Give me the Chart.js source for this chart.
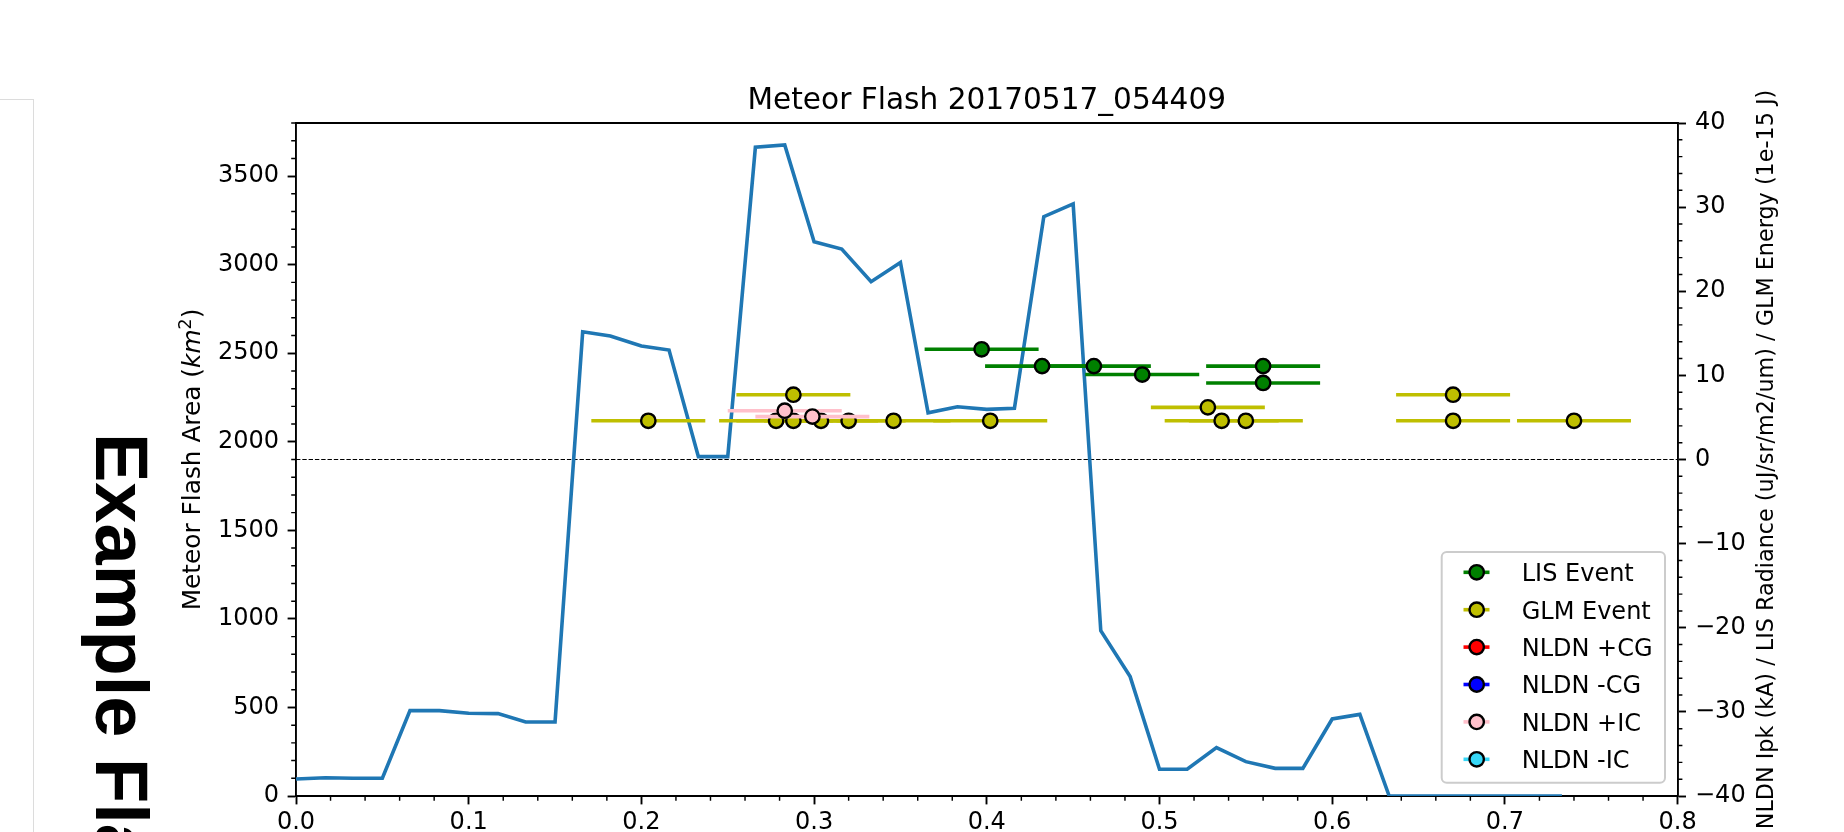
<!DOCTYPE html>
<html>
<head>
<meta charset="utf-8">
<title>Meteor Flash 20170517_054409</title>
<script src="https://cdn.jsdelivr.net/npm/chart.js@4.4.1/dist/chart.umd.min.js"></script>
<style>
    html, body { margin: 0; padding: 0; background: #fff; overflow: hidden; }
    #wrap { position: relative; width: 1844px; height: 832px; overflow: hidden; }
    #side { position: absolute; left: -10px; top: 99px; width: 44px; height: 800px; border: 1.5px solid #dcdcdc; box-sizing: border-box; }
    #sideTitle {
        position: absolute; left: 158px; top: 433px;
        transform-origin: 0 0; transform: rotate(90deg);
        font: bold 74px "Liberation Sans", Arial, sans-serif; line-height: 74px;
        white-space: nowrap; color: #000;
    }
    canvas { position: absolute; left: 0; top: 0; }
</style>
</head>
<body>
<div id="wrap">
    <canvas id="flashChart" width="1844" height="832"></canvas>
    <div id="side"></div>
    <div id="sideTitle">Example Flash</div>
</div>
<script>
// Meteor flash area (left axis), one value per frame
const flashTime = [0.000, 0.017, 0.033, 0.050, 0.066, 0.083, 0.100, 0.117, 0.133, 0.150,
                   0.166, 0.182, 0.200, 0.216, 0.233, 0.250, 0.266, 0.283, 0.300, 0.316,
                   0.333, 0.350, 0.366, 0.383, 0.400, 0.416, 0.433, 0.450, 0.466, 0.483,
                   0.500, 0.516, 0.533, 0.550, 0.567, 0.583, 0.600, 0.616, 0.633, 0.650,
                   0.666, 0.683, 0.700, 0.716, 0.733];
const flashArea = [96, 103, 100, 100, 482, 482, 467, 465, 418, 418,
                   2621, 2597, 2541, 2518, 1916, 1916, 3663, 3676, 3130, 3088,
                   2904, 3013, 2164, 2198, 2183, 2189, 3271, 3343, 933, 674,
                   151, 151, 273, 194, 156, 156, 435, 461, 0, 0,
                   0, 0, 0, 0, 0];

// Events (right axis)
const lisTime = [0.397, 0.432, 0.462, 0.490, 0.560, 0.560];
const lisRadiance = [13.1, 11.1, 11.1, 10.1, 11.1, 9.1];

const glmTime = [0.204, 0.278, 0.288, 0.288, 0.304, 0.320, 0.346, 0.402, 0.528, 0.536, 0.550, 0.670, 0.670, 0.740];
const glmEnergy = [4.6, 4.6, 4.6, 7.7, 4.6, 4.6, 4.6, 4.6, 6.2, 4.6, 4.6, 7.7, 4.6, 4.6];

const posCgTime = [];
const posCgPeak = [];
const negCgTime = [];
const negCgPeak = [];
const posIcTime = [0.283, 0.299];
const posIcPeak = [5.8, 5.1];
const negIcTime = [];
const negIcPeak = [];

const errHalfWidth = 0.033;

// Tick labels
const xTickValues = [0.0, 0.1, 0.2, 0.3, 0.4, 0.5, 0.6, 0.7, 0.8];
const yTickValues = [0, 500, 1000, 1500, 2000, 2500, 3000, 3500];
const y2TickValues = [-40, -30, -20, -10, 0, 10, 20, 30, 40];

const FONT = '"DejaVu Sans", Verdana, sans-serif';

const toPoints = (xs, ys) => xs.map((x, i) => ({ x: x, y: ys[i] }));

const eventSet = (label, xs, ys, color, order) => ({
    label: label,
    data: toPoints(xs, ys),
    yAxisID: 'y2',
    showLine: false,
    pointRadius: 7.2,
    pointHoverRadius: 7.2,
    pointBackgroundColor: color,
    pointBorderColor: '#000',
    pointBorderWidth: 2.4,
    errHalf: errHalfWidth,
    barColor: color,
    inLegend: true,
    order: order
});

// Horizontal error bars, drawn just before each event dataset
const errorBars = {
    id: 'errorBars',
    beforeDatasetDraw(chart, args) {
        const ds = chart.data.datasets[args.index];
        if (!ds.errHalf) return;
        const xs = chart.scales.x, ys = chart.scales.y2, ctx = chart.ctx, a = chart.chartArea;
        ctx.save();
        ctx.beginPath();
        ctx.rect(a.left, a.top, a.right - a.left, a.bottom - a.top);
        ctx.clip();
        ctx.strokeStyle = ds.barColor;
        ctx.lineWidth = 3.6;
        ds.data.forEach(p => {
            const y = ys.getPixelForValue(p.y);
            ctx.beginPath();
            ctx.moveTo(xs.getPixelForValue(p.x - ds.errHalf), y);
            ctx.lineTo(xs.getPixelForValue(p.x + ds.errHalf), y);
            ctx.stroke();
        });
        ctx.restore();
    }
};

// Dashed zero line of the right axis
const zeroLine = {
    id: 'zeroLine',
    beforeDatasetsDraw(chart) {
        const ctx = chart.ctx, a = chart.chartArea;
        const y = chart.scales.y2.getPixelForValue(0);
        ctx.save();
        ctx.strokeStyle = '#000';
        ctx.lineWidth = 1.2;
        ctx.setLineDash([4.4, 1.9]);
        ctx.beginPath();
        ctx.moveTo(a.left, y);
        ctx.lineTo(a.right, y);
        ctx.stroke();
        ctx.restore();
    }
};

// Frame, minor ticks, title, axis titles, legend
const decorations = {
    id: 'decorations',
    afterDraw(chart) {
        const ctx = chart.ctx, a = chart.chartArea;
        const sx = chart.scales.x, sy = chart.scales.y, sy2 = chart.scales.y2;
        ctx.save();

        // top spine
        ctx.strokeStyle = '#000';
        ctx.lineWidth = 1.9;
        ctx.beginPath();
        ctx.moveTo(a.left - 0.95, a.top);
        ctx.lineTo(a.right + 0.95, a.top);
        ctx.stroke();

        // minor ticks
        ctx.lineWidth = 1.44;
        ctx.beginPath();
        for (let k = 0; k <= 40; k++) {
            if (k % 5 === 0) continue;
            const x = sx.getPixelForValue(k * 0.02);
            ctx.moveTo(x, a.bottom);
            ctx.lineTo(x, a.bottom + 4.8);
        }
        for (let k = 0; k <= 38; k++) {
            if (k % 5 === 0) continue;
            const y = sy.getPixelForValue(k * 100);
            ctx.moveTo(a.left, y);
            ctx.lineTo(a.left - 4.8, y);
        }
        for (let k = -20; k <= 20; k++) {
            if (k % 5 === 0) continue;
            const y = sy2.getPixelForValue(k * 2);
            ctx.moveTo(a.right, y);
            ctx.lineTo(a.right + 4.8, y);
        }
        ctx.stroke();

        // title
        ctx.fillStyle = '#000';
        ctx.font = '29.6px ' + FONT;
        ctx.textAlign = 'center';
        ctx.textBaseline = 'alphabetic';
        ctx.fillText('Meteor Flash 20170517_054409', (a.left + a.right) / 2, 108.6);

        // left axis title with italic km and superscript 2
        const parts = [
            { t: 'Meteor Flash Area (', f: '24.8px ' + FONT, dy: 0 },
            { t: 'km', f: 'italic 24.8px ' + FONT, dy: 0 },
            { t: '2', f: '17.5px ' + FONT, dy: -9.5 },
            { t: ')', f: '24.8px ' + FONT, dy: 0 }
        ];
        let total = 0;
        parts.forEach(p => { ctx.font = p.f; p.w = ctx.measureText(p.t).width; total += p.w; });
        ctx.save();
        ctx.translate(200, (a.top + a.bottom) / 2);
        ctx.rotate(-Math.PI / 2);
        ctx.textAlign = 'left';
        let cx = -total / 2;
        parts.forEach(p => { ctx.font = p.f; ctx.fillText(p.t, cx, p.dy); cx += p.w; });
        ctx.restore();

        // right axis title
        ctx.save();
        ctx.translate(1773, (a.top + a.bottom) / 2);
        ctx.rotate(-Math.PI / 2);
        ctx.font = '22.3px ' + FONT;
        ctx.textAlign = 'center';
        ctx.fillText('NLDN Ipk (kA) / LIS Radiance (uJ/sr/m2/um) / GLM Energy (1e-15 J)', 0, 0);
        ctx.restore();

        // legend
        const bx = 1441.7, by = 552, bw = 223.3, bh = 230.7, r = 5;
        ctx.beginPath();
        ctx.moveTo(bx + r, by);
        ctx.arcTo(bx + bw, by, bx + bw, by + bh, r);
        ctx.arcTo(bx + bw, by + bh, bx, by + bh, r);
        ctx.arcTo(bx, by + bh, bx, by, r);
        ctx.arcTo(bx, by, bx + bw, by, r);
        ctx.closePath();
        ctx.fillStyle = 'rgba(255,255,255,0.8)';
        ctx.fill();
        ctx.strokeStyle = '#cccccc';
        ctx.lineWidth = 2;
        ctx.stroke();

        const entries = chart.data.datasets.filter(d => d.inLegend);
        ctx.font = '24px ' + FONT;
        ctx.textAlign = 'left';
        ctx.textBaseline = 'alphabetic';
        entries.forEach((d, i) => {
            const ry = 572.3 + i * 37.4;
            ctx.strokeStyle = d.barColor;
            ctx.lineWidth = 3.6;
            ctx.beginPath();
            ctx.moveTo(1463.5, ry);
            ctx.lineTo(1489.5, ry);
            ctx.stroke();
            ctx.beginPath();
            ctx.arc(1476.7, ry, 7.2, 0, Math.PI * 2);
            ctx.fillStyle = d.barColor;
            ctx.fill();
            ctx.strokeStyle = '#000';
            ctx.lineWidth = 2.4;
            ctx.stroke();
            ctx.fillStyle = '#000';
            ctx.fillText(d.label, 1521.7, ry + 8.8);
        });

        ctx.restore();
    }
};

const tickFont = { family: FONT, size: 24 };
const axisGrid = { drawOnChartArea: false, drawTicks: true, tickLength: 8.4, tickWidth: 1.9, tickColor: '#000' };
const axisBorder = { display: true, color: '#000', width: 1.9 };

const ctx = document.getElementById('flashChart').getContext('2d');
const myChart = new Chart(ctx, {
    type: 'scatter',
    data: {
        datasets: [
            {
                label: 'Meteor Flash Area',
                data: toPoints(flashTime, flashArea),
                yAxisID: 'y',
                showLine: true,
                borderColor: '#1f77b4',
                borderWidth: 3.6,
                pointRadius: 0,
                pointHoverRadius: 0,
                tension: 0,
                inLegend: false,
                order: 10
            },
            eventSet('LIS Event', lisTime, lisRadiance, '#008000', 6),
            eventSet('GLM Event', glmTime, glmEnergy, '#bfbf00', 5),
            eventSet('NLDN +CG', posCgTime, posCgPeak, '#ff0000', 4),
            eventSet('NLDN -CG', negCgTime, negCgPeak, '#0000ff', 3),
            eventSet('NLDN +IC', posIcTime, posIcPeak, '#ffc0cb', 2),
            eventSet('NLDN -IC', negIcTime, negIcPeak, '#36d7f7', 1)
        ]
    },
    options: {
        responsive: false,
        animation: false,
        events: [],
        layout: { padding: { top: 123, left: 0, right: 0, bottom: 0 } },
        plugins: {
            legend: { display: false },
            tooltip: { enabled: false },
            title: { display: false }
        },
        scales: {
            x: {
                type: 'linear',
                position: 'bottom',
                min: 0,
                max: 0.8,
                afterBuildTicks: s => { s.ticks = xTickValues.map(v => ({ value: v })); },
                afterFit: s => { s.height = 36; },
                ticks: { callback: v => Number(v).toFixed(1), color: '#000', font: tickFont, padding: 4, maxRotation: 0, autoSkip: false },
                grid: axisGrid,
                border: axisBorder
            },
            y: {
                type: 'linear',
                position: 'left',
                min: 0,
                max: 3800,
                afterBuildTicks: s => { s.ticks = yTickValues.map(v => ({ value: v })); },
                afterFit: s => { s.width = 296; },
                ticks: { callback: v => String(v), color: '#000', font: tickFont, padding: 8.5, autoSkip: false },
                grid: axisGrid,
                border: axisBorder
            },
            y2: {
                type: 'linear',
                position: 'right',
                min: -40,
                max: 40,
                afterBuildTicks: s => { s.ticks = y2TickValues.map(v => ({ value: v })); },
                afterFit: s => { s.width = 1844 - 1677.6; },
                ticks: { callback: v => (v < 0 ? '\u2212' + Math.abs(v) : String(v)), color: '#000', font: tickFont, padding: 9, autoSkip: false },
                grid: axisGrid,
                border: axisBorder
            }
        }
    },
    plugins: [zeroLine, errorBars, decorations]
});
</script>
</body>
</html>
